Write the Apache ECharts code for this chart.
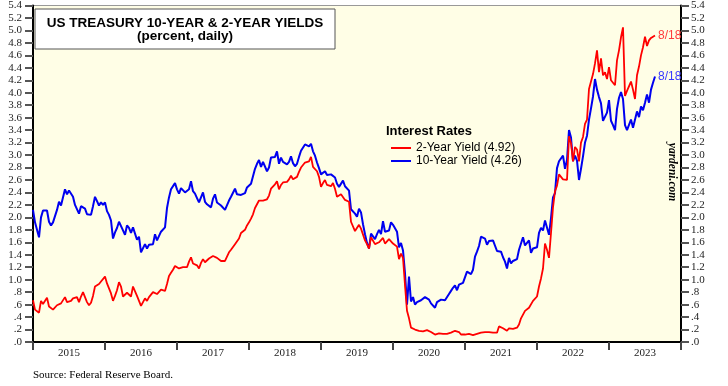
<!DOCTYPE html>
<html>
<head>
<meta charset="utf-8">
<script src="https://cdn.jsdelivr.net/npm/echarts@6/dist/echarts.min.js"></script>
<style>html,body{margin:0;padding:0;background:#fff}#c{width:728px;height:386px}</style>
</head>
<body>
<div id="c"></div>
<script>
// Categories (x-axis year labels)
const years = ['2015','2016','2017','2018','2019','2020','2021','2022','2023'];
const startYear = 2015;
const pointsPerYear = 36; // samples on the 1st, 11th and 21st of each month
const lastDateLabel = '8/18';

// 2-Year Treasury yield (percent), Jan 2015 .. Aug 2023
const twoYear = [
  // 2015
  0.67,0.52,0.50, 0.47,0.66,0.61, 0.64,0.71,0.57, 0.56,0.52,0.54, 0.59,0.59,0.62, 0.64,0.72,0.64,
  0.64,0.66,0.70, 0.72,0.72,0.64, 0.73,0.80,0.72, 0.64,0.59,0.63, 0.74,0.89,0.92, 0.93,0.97,1.00,
  // 2016
  1.05,0.94,0.86, 0.78,0.66,0.74, 0.83,0.96,0.89, 0.73,0.72,0.79, 0.78,0.73,0.89, 0.88,0.74,0.75,
  0.58,0.64,0.70, 0.66,0.72,0.76, 0.80,0.78,0.77, 0.77,0.84,0.84, 0.82,0.93,1.06, 1.11,1.16,1.22,
  // 2017
  1.20,1.18,1.20, 1.20,1.20,1.20, 1.29,1.36,1.26, 1.25,1.23,1.18, 1.27,1.33,1.28, 1.29,1.34,1.34,
  1.38,1.37,1.35, 1.35,1.30,1.33, 1.30,1.30,1.44, 1.48,1.51,1.57, 1.60,1.66,1.75, 1.78,1.80,1.87,
  // 2018
  1.92,1.98,2.05, 2.15,2.12,2.27, 2.25,2.27,2.30, 2.29,2.35,2.46, 2.49,2.53,2.58, 2.45,2.52,2.56,
  2.55,2.57,2.61, 2.67,2.61,2.59, 2.65,2.73,2.80, 2.82,2.88,2.91, 2.90,2.97,2.81, 2.80,2.74,2.65,
  // 2019
  2.49,2.55,2.60, 2.52,2.53,2.50, 2.55,2.46,2.33, 2.30,2.37,2.40, 2.28,2.27,2.25, 1.93,1.92,1.78,
  1.77,1.88,1.82, 1.80,1.63,1.57, 1.50,1.68,1.70, 1.57,1.60,1.60, 1.60,1.67,1.58, 1.60,1.65,1.63,
  // 2020
  1.58,1.58,1.53, 1.33,1.42,1.35, 0.91,0.50,0.38, 0.23,0.24,0.20, 0.20,0.18,0.17, 0.17,0.20,0.19,
  0.16,0.16,0.15, 0.12,0.15,0.14, 0.14,0.13,0.14, 0.13,0.15,0.15, 0.15,0.18,0.16, 0.16,0.12,0.13,
  // 2021
  0.12,0.14,0.13, 0.11,0.11,0.11, 0.13,0.15,0.15, 0.17,0.16,0.16, 0.16,0.16,0.15, 0.14,0.15,0.25,
  0.25,0.22,0.20, 0.18,0.22,0.22, 0.21,0.22,0.23, 0.28,0.38,0.44, 0.50,0.51,0.55, 0.56,0.66,0.67,
  // 2022
  0.73,0.89,1.02, 1.18,1.58,1.48, 1.35,1.75,2.16, 2.42,2.51,2.69, 2.72,2.61,2.59, 2.60,3.30,3.19,
  2.90,3.13,3.09, 2.90,3.20,3.29, 3.50,3.57,4.06, 4.18,4.30,4.47, 4.68,4.33,4.55, 4.28,4.33,4.22,
  // 2023
  4.41,4.20,4.18, 4.12,4.52,4.68, 4.89,5.05,3.95, 4.03,4.04,4.18, 4.05,3.90,4.28, 4.42,4.60,4.73,
  4.90,4.75,4.84, 4.88,4.89,4.92
];

// 10-Year Treasury yield (percent), Jan 2015 .. Aug 2023
const tenYear = [
  // 2015
  2.12,1.92,1.80, 1.68,2.00,2.11, 2.08,2.11,1.93, 1.87,1.92,1.92, 2.12,2.25,2.19, 2.20,2.45,2.37,
  2.43,2.40,2.33, 2.20,2.17,2.06, 2.18,2.20,2.14, 2.05,2.07,2.04, 2.18,2.33,2.26, 2.19,2.24,2.20,
  // 2016
  2.24,2.10,2.04, 1.95,1.66,1.76, 1.83,1.93,1.92, 1.79,1.72,1.87, 1.83,1.75,1.84, 1.83,1.64,1.69,
  1.44,1.43,1.57, 1.50,1.56,1.57, 1.57,1.73,1.63, 1.61,1.77,1.74, 1.84,2.15,2.32, 2.45,2.47,2.55,
  // 2017
  2.45,2.38,2.47, 2.48,2.40,2.42, 2.45,2.58,2.42, 2.38,2.31,2.24, 2.32,2.40,2.25, 2.21,2.21,2.16,
  2.30,2.37,2.24, 2.27,2.19,2.18, 2.12,2.13,2.27, 2.33,2.35,2.46, 2.37,2.40,2.36, 2.37,2.39,2.48,
  // 2018
  2.46,2.54,2.66, 2.78,2.86,2.92, 2.81,2.89,2.88, 2.74,2.80,2.96, 2.97,2.97,3.06, 2.86,2.96,2.89,
  2.87,2.85,2.89, 2.98,2.87,2.82, 2.86,2.97,3.07, 3.09,3.17,3.19, 3.14,3.18,3.06, 2.99,2.88,2.79,
  // 2019
  2.69,2.71,2.74, 2.68,2.66,2.69, 2.72,2.64,2.54, 2.49,2.50,2.59, 2.50,2.47,2.43, 2.13,2.14,2.06,
  2.01,2.14,2.08, 1.89,1.73,1.59, 1.50,1.74,1.75, 1.65,1.73,1.80, 1.73,1.94,1.77, 1.78,1.79,1.92,
  // 2020
  1.88,1.85,1.77, 1.52,1.59,1.47, 1.10,0.60,1.05, 0.65,0.72,0.60, 0.64,0.65,0.67, 0.66,0.72,0.70,
  0.68,0.62,0.61, 0.55,0.64,0.63, 0.68,0.68,0.67, 0.68,0.77,0.82, 0.87,0.91,0.83, 0.92,0.90,0.95,
  // 2021
  0.93,1.13,1.10, 1.09,1.16,1.37, 1.45,1.54,1.69, 1.69,1.66,1.56, 1.62,1.63,1.63, 1.60,1.46,1.49,
  1.45,1.36,1.29, 1.18,1.35,1.26, 1.30,1.30,1.33, 1.48,1.58,1.68, 1.55,1.55,1.63, 1.43,1.50,1.47,
  // 2022
  1.52,1.75,1.83, 1.79,1.95,1.92, 1.72,1.99,2.32, 2.39,2.79,2.90, 2.93,2.99,2.78, 2.92,3.40,3.28,
  2.90,2.99,2.91, 2.60,2.78,2.98, 3.20,3.31,3.57, 3.75,3.94,4.22, 4.05,3.93,3.83, 3.55,3.57,3.68,
  // 2023
  3.88,3.55,3.48, 3.40,3.74,3.92, 4.01,3.90,3.48, 3.40,3.43,3.57, 3.44,3.43,3.70, 3.61,3.78,3.72,
  3.84,3.97,3.84, 4.05,4.16,4.26
];

const toPairs = arr => arr.map((v, i) => [startYear + i / pointsPerYear, v]);
const fmtY = v => v >= 1 ? v.toFixed(1) : v.toFixed(1).substring(1);

const serif = '"Liberation Serif", "Times New Roman", serif';
const sans = '"Liberation Sans", Arial, sans-serif';

const chart = echarts.init(document.getElementById('c'), null, {renderer: 'canvas'});
const yAxisBase = {
  type: 'value', min: 0, max: 5.4, interval: 0.2,
  axisLine: {show: true, lineStyle: {color: '#000', width: 2}},
  axisTick: {show: true, inside: false, length: 8, lineStyle: {color: '#555', width: 2}},
  axisLabel: {formatter: fmtY, fontFamily: serif, fontSize: 11, color: '#222', margin: 11},
  splitLine: {show: false}
};
chart.setOption({
  animation: false,
  backgroundColor: '#fff',
  grid: {left: 33, right: 47, top: 5, bottom: 44, show: true, backgroundColor: '#FFFEE6', borderColor: '#999', borderWidth: 1},
  xAxis: [
    {type: 'value', min: 2015, max: 2024, interval: 1, position: 'bottom',
     axisLine: {show: true, lineStyle: {color: '#000', width: 2}},
     axisTick: {show: true, length: 8, lineStyle: {color: '#444', width: 2}},
     axisLabel: {show: false}, splitLine: {show: false}},
    {type: 'category', data: years, position: 'bottom', boundaryGap: true,
     axisLine: {show: false}, axisTick: {show: false},
     axisLabel: {fontFamily: serif, fontSize: 11, color: '#222', margin: 6}}
  ],
  yAxis: [
    Object.assign({}, yAxisBase, {position: 'left'}),
    Object.assign({}, yAxisBase, {position: 'right', axisLabel: Object.assign({}, yAxisBase.axisLabel, {margin: 10})})
  ],
  legend: {
    data: ['2-Year Yield (4.92)', '10-Year Yield (4.26)'],
    orient: 'vertical', left: 386, top: 137, itemWidth: 20, itemHeight: 2, itemGap: 1, itemTextGap: 8,
    icon: 'rect', selectedMode: false,
    textStyle: {fontFamily: sans, fontSize: 12, color: '#000'}
  },
  series: [
    {name: '10-Year Yield (4.26)', type: 'line', xAxisIndex: 0, yAxisIndex: 0, data: toPairs(tenYear),
     showSymbol: false, symbol: 'none', color: '#0000F0', lineStyle: {color: '#0000F0', width: 2},
     endLabel: {show: true, formatter: lastDateLabel, color: '#3a3aff', fontFamily: sans, fontSize: 12, distance: 3}},
    {name: '2-Year Yield (4.92)', type: 'line', xAxisIndex: 0, yAxisIndex: 0, data: toPairs(twoYear),
     showSymbol: false, symbol: 'none', color: '#FF0000', lineStyle: {color: '#FF0000', width: 1.8},
     endLabel: {show: true, formatter: lastDateLabel, color: '#ff3b3b', fontFamily: sans, fontSize: 12, distance: 3}}
  ],
  graphic: [
    {type: 'rect', shape: {x: 35, y: 9, width: 300, height: 40}, style: {fill: '#fff', stroke: '#555', lineWidth: 1}, z: 10},
    {type: 'text', x: 185, y: 23, z: 11, style: {text: 'US TREASURY 10-YEAR & 2-YEAR YIELDS', font: 'bold 13.5px ' + sans, fill: '#000', textAlign: 'center', textVerticalAlign: 'middle'}},
    {type: 'text', x: 185, y: 36, z: 11, style: {text: '(percent, daily)', font: 'bold 13.5px ' + sans, fill: '#000', textAlign: 'center', textVerticalAlign: 'middle'}},
    {type: 'text', x: 386, y: 131, z: 11, style: {text: 'Interest Rates', font: 'bold 13px ' + sans, fill: '#000', textAlign: 'left', textVerticalAlign: 'middle'}},
    {type: 'text', x: 672, y: 172, rotation: -Math.PI / 2, z: 11, style: {text: 'yardeni.com', font: 'italic bold 11.5px ' + serif, fill: '#000', textAlign: 'center', textVerticalAlign: 'middle'}},
    {type: 'text', x: 33, y: 375, z: 11, style: {text: 'Source: Federal Reserve Board.', font: '11px ' + serif, fill: '#000', textAlign: 'left', textVerticalAlign: 'middle'}}
  ]
});
</script>
</body>
</html>
